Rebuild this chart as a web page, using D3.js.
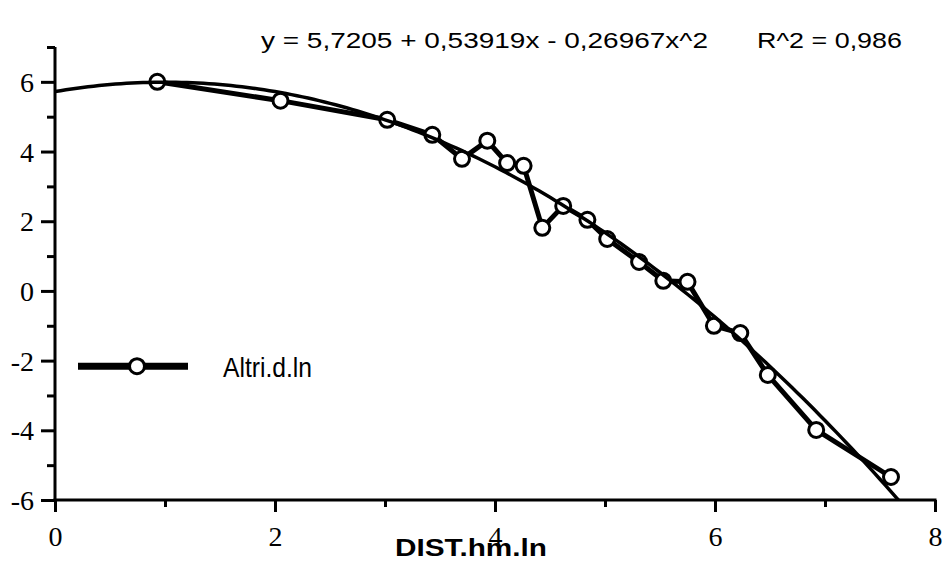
<!DOCTYPE html>
<html>
<head>
<meta charset="utf-8">
<script src="https://cdn.jsdelivr.net/npm/d3@7"></script>
<style>
  html, body { margin: 0; padding: 0; background: #fff; }
  svg { display: block; }
</style>
</head>
<body>
<svg id="chart" width="946" height="562"></svg>
<script>
// ---- data ----
const distX = [0.93, 2.05, 3.02, 3.43, 3.70, 3.93, 4.11, 4.26, 4.43, 4.62, 4.84, 5.02, 5.31, 5.53, 5.75, 5.99, 6.23, 6.48, 6.92, 7.60];
const altriY = [6.00, 5.46, 4.91, 4.48, 3.79, 4.31, 3.67, 3.59, 1.81, 2.44, 2.04, 1.49, 0.83, 0.29, 0.26, -1.00, -1.21, -2.41, -3.99, -5.34];
const fitCoef = [5.7205, 0.53919, -0.26967];   // y = a + b x + c x^2
const xTicks = [0, 1, 2, 3, 4, 5, 6, 7, 8];
const xTickLabels = ["0", "", "2", "", "4", "", "6", "", "8"];
const yTicks = [-6, -5, -4, -3, -2, -1, 0, 1, 2, 3, 4, 5, 6, 7];
const yTickLabels = ["-6", "", "-4", "", "-2", "", "0", "", "2", "", "4", "", "6", ""];
const equationText = "y = 5,7205 + 0,53919x - 0,26967x^2";
const r2Text = "R^2 = 0,986";
const seriesName = "Altri.d.ln";
const xTitle = "DIST.hm.ln";

const svg = d3.select("#chart");
const x = d3.scaleLinear().domain([0, 8]).range([55, 935]);
const y = d3.scaleLinear().domain([-6, 7]).range([500, 47]);

const serif = "'Liberation Serif', 'Times New Roman', serif";
const sans = "'Liberation Sans', Arial, Helvetica, sans-serif";

// clip to plot area
svg.append("defs").append("clipPath").attr("id", "plot")
  .append("rect").attr("x", x(0)).attr("y", y(7) - 20).attr("width", x(8) - x(0) + 5).attr("height", y(-6) - y(7) + 20);

// ---- axes ----
const yAxis = svg.append("g").attr("transform", `translate(${x(0)},0)`)
  .call(d3.axisLeft(y).tickValues(yTicks).tickSize(14).tickSizeOuter(0).tickPadding(7)
    .tickFormat((d, i) => yTickLabels[i]));
yAxis.selectAll(".tick line").attr("x2", (d, i) => (i % 2 === 0 ? -14 : -8));
yAxis.select(".domain").attr("d", `M0,${y(7)}V${y(-6) + 1.5}`);

const xAxis = svg.append("g").attr("transform", `translate(0,${y(-6)})`)
  .call(d3.axisBottom(x).tickValues(xTicks).tickSize(12).tickSizeOuter(0).tickPadding(14)
    .tickFormat((d, i) => xTickLabels[i]));
xAxis.selectAll(".tick line").attr("y2", (d, i) => (i % 2 === 0 ? 12 : 7));
xAxis.select(".domain").attr("d", `M${x(0) - 1.5},0H${x(8) + 1.5}`);

[yAxis, xAxis].forEach(g => {
  g.selectAll(".domain, .tick line").attr("stroke", "#000").attr("stroke-width", 3);
  g.selectAll("text").attr("font-family", serif).attr("font-size", 28).attr("fill", "#000");
});
yAxis.selectAll("text").attr("dy", "0.34em");
xAxis.selectAll("text").attr("dy", "0.7em");

// ---- data line ----
const line = d3.line().x(d => x(d[0])).y(d => y(d[1]));
const pts = distX.map((v, i) => [v, altriY[i]]);
svg.append("path").datum(pts)
  .attr("d", line).attr("fill", "none").attr("stroke", "#000")
  .attr("stroke-width", 5).attr("stroke-linejoin", "round");

svg.append("g").selectAll("circle").data(pts).join("circle")
  .attr("cx", d => x(d[0])).attr("cy", d => y(d[1])).attr("r", 7.5)
  .attr("fill", "#fff").attr("stroke", "#000").attr("stroke-width", 3);

// ---- fitted curve (from displayed equation) ----
const fitX = d3.range(0, 7.801, 0.05);
const fitPts = fitX.map(v => [v, fitCoef[0] + fitCoef[1] * v + fitCoef[2] * v * v]);
svg.append("path").datum(fitPts).attr("clip-path", "url(#plot)")
  .attr("d", line).attr("fill", "none").attr("stroke", "#000").attr("stroke-width", 3.5);

// ---- equation text ----
svg.append("text").attr("x", 261).attr("y", 48)
  .attr("font-family", sans).attr("font-size", 22)
  .attr("textLength", 447).attr("lengthAdjust", "spacingAndGlyphs")
  .text(equationText);
svg.append("text").attr("x", 757).attr("y", 48)
  .attr("font-family", sans).attr("font-size", 22)
  .attr("textLength", 145).attr("lengthAdjust", "spacingAndGlyphs")
  .text(r2Text);

// ---- legend ----
const legY = y(-2.16);
svg.append("line").attr("x1", 78).attr("x2", 188).attr("y1", legY).attr("y2", legY)
  .attr("stroke", "#000").attr("stroke-width", 7);
svg.append("circle").attr("cx", 137).attr("cy", legY).attr("r", 7.5)
  .attr("fill", "#fff").attr("stroke", "#000").attr("stroke-width", 3);
svg.append("text").attr("x", 223).attr("y", legY + 11)
  .attr("font-family", sans).attr("font-size", 28)
  .attr("textLength", 89).attr("lengthAdjust", "spacingAndGlyphs")
  .text(seriesName);

// ---- x title ----
svg.append("text").attr("x", 395).attr("y", 556)
  .attr("font-family", sans).attr("font-size", 24).attr("font-weight", "bold")
  .attr("textLength", 152).attr("lengthAdjust", "spacingAndGlyphs")
  .text(xTitle);
</script>
</body>
</html>
